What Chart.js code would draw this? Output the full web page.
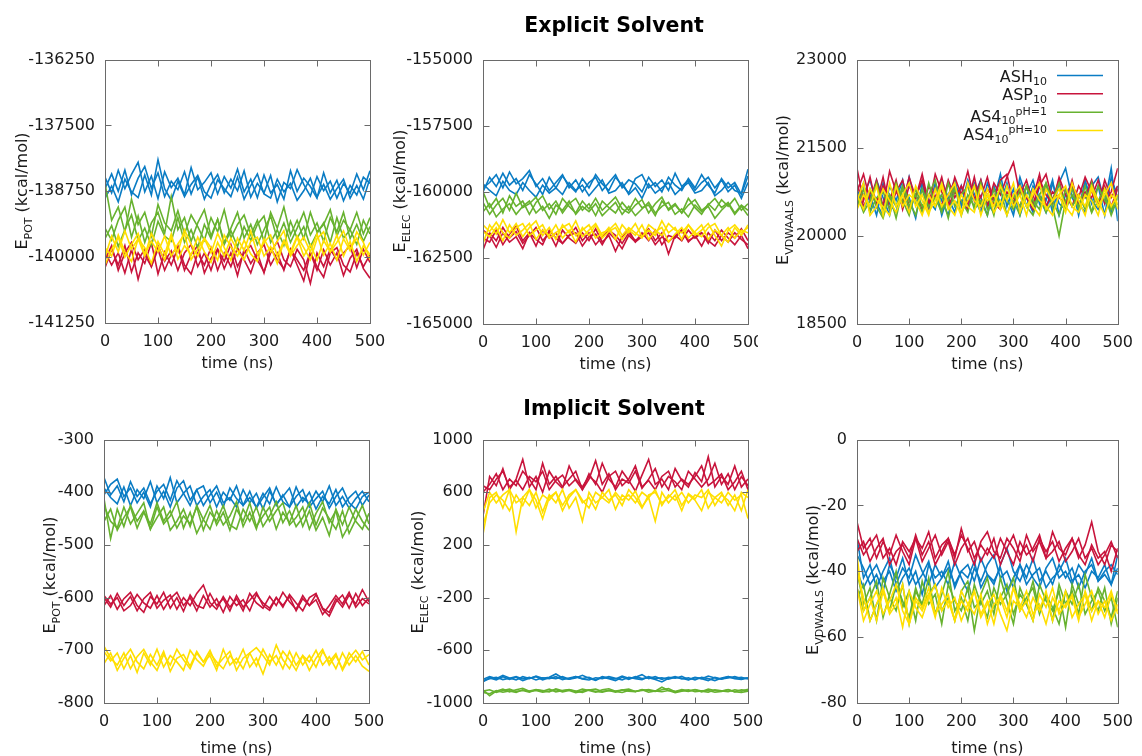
<!DOCTYPE html>
<html>
<head>
<meta charset="utf-8">
<script src="https://cdn.jsdelivr.net/npm/chart.js@4.4.0/dist/chart.umd.min.js"></script>
<style>
  body { margin: 0; background: #fff; }
  #page { position: relative; width: 1142px; height: 756px; overflow: hidden; background: #fff; }
  canvas, .clip { position: absolute; }
  .clip { overflow: hidden; }
</style>
</head>
<body>
<div id="page">
  <canvas id="titles" width="1142" height="756" style="left:0px;top:0px"></canvas>
  <canvas id="c1" width="395" height="340" style="left:0px;top:40px"></canvas>
  <div class="clip" style="left:380px;top:40px;width:378px;height:340px">
    <canvas id="c2" width="410" height="340" style="left:0px;top:0px"></canvas>
  </div>
  <canvas id="c3" width="382" height="340" style="left:760px;top:40px"></canvas>
  <canvas id="c4" width="395" height="336" style="left:0px;top:420px"></canvas>
  <canvas id="c5" width="395" height="336" style="left:380px;top:420px"></canvas>
  <canvas id="c6" width="382" height="336" style="left:760px;top:420px"></canvas>
</div>
<script>
// time axis (ns)
const times = [0,12.5,25,37.5,50,62.5,75,87.5,100,112.5,125,137.5,150,162.5,175,187.5,200,212.5,225,237.5,250,262.5,275,287.5,300,312.5,325,337.5,350,362.5,375,387.5,400,412.5,425,437.5,450,462.5,475,487.5,500];

// ---- Explicit solvent: E_POT ----
const expPotASH = [
  [-138700,-138420,-138750,-138350,-138820,-138500,-138280,-138690,-138400,-138850,-138560,-138720,-138380,-138800,-138480,-138900,-138620,-138430,-138780,-138520,-138740,-138360,-138860,-138600,-138780,-138450,-138950,-138580,-138700,-138340,-138620,-138840,-138470,-138740,-138560,-138880,-138600,-138790,-138420,-138720,-138360],
  [-138480,-138780,-138350,-138700,-138430,-138200,-138760,-138460,-138890,-138380,-138680,-138500,-138820,-138300,-138720,-138580,-138400,-138800,-138470,-138690,-138330,-138760,-138520,-138870,-138440,-138780,-138620,-138900,-138360,-138750,-138500,-138660,-138880,-138400,-138780,-138540,-138930,-138640,-138820,-138480,-138600],
  [-138880,-138650,-138950,-138520,-138760,-138870,-138440,-138820,-138150,-138700,-138920,-138560,-138850,-138620,-138450,-138760,-138880,-138530,-138700,-138850,-138480,-138900,-138640,-138420,-138800,-138880,-138520,-138760,-138600,-138920,-138740,-138500,-138860,-138620,-138900,-138700,-138520,-138880,-138640,-138900,-138500]
];
const expPotASP = [
  [-140200,-139850,-140150,-139780,-140280,-139920,-140120,-139720,-140320,-139900,-140150,-139820,-140250,-139950,-139780,-140300,-140020,-139850,-140220,-139920,-140350,-139850,-140120,-139920,-140300,-139820,-140050,-140220,-139850,-140150,-140450,-139920,-140250,-139860,-140150,-139920,-140350,-140020,-139850,-140220,-140400],
  [-139900,-140150,-139920,-140300,-139850,-140420,-139950,-140180,-139850,-140250,-139960,-139780,-140150,-140320,-139920,-140150,-139820,-140250,-139920,-140180,-139820,-140050,-140300,-139920,-139760,-140150,-139920,-140250,-139850,-140050,-140250,-139900,-140180,-140380,-139920,-139820,-140150,-140280,-139920,-140180,-139950],
  [-140050,-139780,-140250,-139920,-139720,-140050,-139850,-140180,-139780,-140080,-139880,-140250,-139920,-139760,-140180,-139920,-140250,-139850,-140080,-139760,-140180,-139920,-139780,-140050,-140280,-139920,-139700,-140050,-140180,-139850,-140050,-140500,-139920,-140180,-139850,-140050,-139920,-139780,-140200,-139850,-140100]
];
const expPotAS4pH1 = [
  [-138600,-139300,-139050,-139520,-138900,-139380,-139150,-139600,-139000,-139350,-139500,-139120,-139560,-139200,-139420,-139680,-139250,-139520,-139100,-139640,-139380,-139200,-139580,-139300,-139700,-139150,-139450,-139050,-139580,-139300,-139650,-139150,-139520,-139380,-139100,-139600,-139300,-139480,-139150,-139560,-139250],
  [-139450,-139680,-139300,-139050,-139620,-139220,-139720,-139350,-139150,-139550,-138850,-139480,-139250,-139700,-139350,-139100,-139600,-139280,-139720,-139450,-139150,-139640,-139380,-139760,-139480,-139220,-139650,-139350,-139720,-139450,-139150,-139580,-139350,-139700,-139250,-139520,-139150,-139650,-139380,-139700,-139420],
  [-139650,-139400,-139800,-139480,-139200,-139680,-139450,-139780,-139320,-139600,-139700,-139250,-139720,-139480,-139820,-139380,-139650,-139280,-139760,-139500,-139800,-139420,-139680,-139380,-139220,-139720,-139480,-139780,-139320,-139640,-139420,-139800,-139550,-139350,-139720,-139250,-139640,-139480,-139760,-139300,-139560]
];
const expPotAS4pH10 = [
  [-140000,-139600,-139900,-139500,-139850,-139650,-139980,-139550,-139800,-140050,-139620,-139900,-139480,-139760,-139980,-139650,-139920,-139550,-139820,-140060,-139640,-139880,-139500,-139950,-139720,-139580,-139980,-139680,-139900,-139600,-139820,-140050,-139650,-139520,-139900,-139720,-139500,-139850,-139640,-139960,-139720],
  [-139820,-139980,-139580,-139900,-140080,-139650,-139820,-140120,-139700,-139950,-139560,-140040,-139780,-139960,-139620,-139900,-140100,-139720,-139980,-139640,-139880,-140050,-139700,-139620,-139980,-139800,-140120,-139700,-139950,-139620,-139980,-139760,-140060,-139680,-139900,-139580,-139980,-139700,-140080,-139780,-139950],
  [-140150,-139850,-139620,-140000,-139760,-139550,-139950,-139700,-139900,-139600,-139980,-139750,-139560,-140050,-139850,-139640,-139820,-140060,-139580,-139800,-139980,-139680,-139940,-140080,-139650,-139900,-139700,-139500,-139980,-139780,-139620,-139900,-139560,-139960,-139740,-140060,-139650,-139880,-139520,-139720,-140050]
];

// ---- Explicit solvent: E_ELEC ----
const expElecASH = [
  [-160000,-159450,-159800,-159300,-159750,-159500,-159950,-159350,-159700,-160100,-159450,-159850,-159400,-159750,-160000,-159500,-159850,-159350,-159700,-159950,-159450,-159750,-160050,-159500,-159350,-159850,-159650,-160000,-159450,-159750,-159950,-159500,-159850,-159350,-159750,-160050,-159500,-159850,-159650,-160100,-159400],
  [-159850,-159650,-159350,-159850,-159250,-159700,-159500,-159200,-159800,-159500,-159950,-159650,-159350,-159850,-159550,-160000,-159650,-159450,-159950,-159650,-159350,-159850,-159550,-159700,-160000,-159450,-159800,-159550,-159950,-159300,-159800,-159550,-159950,-159650,-159450,-159850,-159550,-160000,-159750,-160250,-159650],
  [-159700,-159950,-160150,-159600,-159950,-160100,-159650,-159950,-160200,-159750,-160050,-159850,-160100,-159650,-159950,-159750,-160150,-159850,-159550,-160050,-159950,-159650,-160100,-159850,-160250,-159700,-160050,-159850,-159650,-160100,-159850,-159650,-160050,-159950,-159650,-160150,-159950,-159650,-159950,-160050,-159150]
];
const expElecASP = [
  [-162200,-161550,-161850,-161350,-161750,-161500,-161950,-161650,-161350,-161850,-161550,-162050,-161450,-161750,-161950,-161550,-161850,-161400,-161900,-161650,-162250,-161700,-161450,-161900,-161550,-161850,-161450,-162000,-161650,-161750,-161450,-161900,-161650,-162050,-161550,-161850,-161450,-161750,-162000,-161650,-162150],
  [-161750,-161900,-161450,-162000,-161600,-161300,-161850,-161550,-162050,-161450,-161750,-161550,-161950,-161650,-161350,-161850,-161550,-162000,-161700,-161450,-161650,-161950,-161550,-161850,-161650,-161400,-161850,-161550,-162350,-161650,-161850,-161450,-161750,-161550,-161950,-161450,-161850,-161550,-161750,-161400,-161850],
  [-161450,-161650,-162100,-161550,-161900,-161700,-162150,-161550,-161800,-162000,-161450,-161750,-161950,-161650,-161550,-162050,-161700,-161600,-162000,-161550,-161800,-162150,-161650,-161900,-161700,-161550,-162000,-161700,-161900,-161650,-161450,-161850,-161700,-161550,-161850,-162050,-161650,-161900,-161550,-161800,-162000]
];
const expElecAS4pH1 = [
  [-160000,-160600,-160250,-160800,-160150,-160550,-160350,-160850,-160400,-160150,-160650,-160350,-160800,-160450,-160250,-160700,-160450,-160900,-160350,-160600,-160800,-160400,-160700,-160250,-160600,-160500,-160900,-160350,-160650,-160450,-160800,-160500,-160300,-160700,-160500,-160250,-160600,-160400,-160800,-160500,-160700],
  [-160400,-160850,-160500,-160250,-160700,-160050,-160600,-160450,-160200,-160700,-160450,-160850,-160250,-160550,-160800,-160350,-160650,-160250,-160700,-160450,-160200,-160650,-160800,-160500,-160300,-160800,-160450,-160200,-160700,-160500,-160800,-160250,-160600,-160850,-160450,-160700,-160300,-160550,-160250,-160700,-160450],
  [-160750,-160450,-160950,-160650,-160450,-160850,-160550,-160350,-160800,-160550,-161000,-160500,-160700,-160350,-160850,-160550,-160750,-160450,-160900,-160650,-160400,-160850,-160550,-160900,-160650,-160400,-160800,-160550,-160400,-160850,-160650,-160950,-160500,-160750,-160550,-161000,-160700,-160450,-160850,-160550,-160900]
];
const expElecAS4pH10 = [
  [-161950,-161250,-161600,-161050,-161550,-161200,-161700,-161350,-161100,-161650,-161350,-161800,-161250,-161550,-161100,-161700,-161450,-161200,-161650,-161350,-161800,-161250,-161550,-161200,-161700,-161450,-161650,-161100,-161550,-161350,-161800,-161250,-161550,-161700,-161350,-161200,-161650,-161900,-161350,-161650,-161250],
  [-161500,-161700,-161350,-161850,-161250,-161650,-161450,-161200,-161800,-161450,-161650,-161250,-161750,-161450,-161900,-161350,-161650,-161250,-161750,-161500,-161350,-161800,-161450,-161650,-161250,-161800,-161500,-161350,-161900,-161600,-161350,-161750,-161500,-161250,-161800,-161450,-161650,-161350,-161750,-161450,-161550],
  [-161250,-161500,-161150,-161550,-161750,-161350,-161200,-161650,-161450,-161250,-161750,-161550,-161350,-161200,-161650,-161450,-161250,-161750,-161550,-161450,-161200,-161650,-161350,-161550,-161750,-161250,-161450,-161650,-161200,-161450,-161550,-161250,-161650,-161450,-161200,-161650,-162050,-161450,-161250,-161550,-161350]
];

// ---- Explicit solvent: E_VDWAALS ----
const expVdwASH = [
  [20600,20900,20400,20950,20650,20350,20800,20500,21000,20550,20800,20400,20900,20600,20350,20850,20500,20950,20650,20400,20900,20600,21050,20500,20800,20350,20700,20950,20550,20850,20400,20900,21150,20650,20450,20950,20550,20850,20350,21000,20650],
  [20500,20700,20950,20550,20350,20850,20600,20950,20400,20700,20900,20450,20850,20350,20700,20950,20550,20450,20900,20650,20350,20850,20550,20900,20450,21000,20650,20400,20850,20600,20950,20350,20700,20900,20550,20400,20850,21000,20550,21150,20250],
  [20800,20450,20700,20350,20900,20550,20400,20850,20650,20300,20900,20600,20450,20950,20650,20400,20850,20500,20700,20950,20550,20400,20850,20650,20350,20900,20500,20850,20650,20400,20900,20550,20450,20850,20350,20900,20600,20450,20700,20400,20850]
];
const expVdwASP = [
  [20750,21050,20600,20950,20500,21100,20750,20550,21000,20650,20950,20500,21050,20750,20550,21000,20700,21100,20600,20950,20500,20900,20700,21000,21250,20700,20950,20550,20850,21050,20600,20950,20500,20850,20650,21000,20750,20500,20950,20650,20850],
  [21150,20600,21000,20500,20850,20600,20950,20450,20850,20650,21050,20550,20800,20500,20950,20650,20850,20550,21000,20500,20800,20650,20950,21050,20550,20850,20650,20450,20950,20700,20550,21000,20700,20500,20850,20650,20950,20550,20850,20500,20800],
  [20900,20500,20750,20550,21000,20450,20750,20950,20500,20700,20450,20850,20650,21000,20500,20750,20600,20450,20850,20650,21000,20550,20450,20750,20650,20500,20850,20650,21050,20500,20750,20650,20550,20950,20500,20750,20650,20950,20550,20750,21150]
];
const expVdwAS4pH1 = [
  [20700,20400,20600,20900,20450,20700,20300,20800,20500,20700,20400,20900,20500,20700,20300,20800,20600,20400,20850,20500,20700,20350,20900,20600,20450,20800,20500,20350,20700,20900,20500,20000,20600,20800,20450,20700,20400,20850,20600,20450,20700],
  [20500,20800,20400,20650,20750,20450,20900,20600,20350,20800,20500,20700,20950,20450,20600,20850,20350,20700,20500,20900,20450,20600,20800,20350,20700,20500,20850,20600,20450,20900,20600,20350,20800,20500,20700,20450,20900,20500,20700,20350,20650],
  [20650,20450,20800,20500,20300,20700,20500,20850,20600,20350,20800,20500,20650,20400,20900,20500,20700,20850,20450,20600,20350,20800,20500,20700,20600,20350,20850,20500,20700,20400,20600,20900,20450,20700,20500,20850,20400,20600,20800,20450,20550]
];
const expVdwAS4pH10 = [
  [20450,20700,20500,20850,20350,20900,20500,20700,20400,20850,20600,20350,20800,20500,20700,20900,20400,20600,20850,20350,20700,20500,20850,20600,20900,20400,20700,20500,20350,20800,20600,20700,20400,20900,20600,20350,20800,20500,20700,20900,20450],
  [20700,20450,20800,20600,20500,20350,20850,20500,20700,20600,20350,20700,20500,20850,20450,20600,20350,20900,20600,20500,20800,20400,20600,20350,20700,20850,20500,20700,20900,20450,20600,20800,20500,20350,20700,20500,20850,20600,20350,20700,20550],
  [20600,20900,20350,20500,20800,20600,20400,20700,20900,20500,20700,20400,20600,20900,20500,20350,20700,20500,20400,20850,20600,20700,20450,20850,20500,20700,20350,20800,20600,20500,20350,20700,20850,20500,20400,20700,20600,20350,20800,20500,20700]
];

// ---- Implicit solvent: E_POT ----
const impPotASH = [
  [-372,-405,-388,-418,-380,-408,-392,-422,-398,-385,-415,-378,-402,-425,-395,-388,-420,-400,-428,-392,-412,-425,-398,-430,-410,-392,-425,-405,-428,-390,-418,-400,-432,-408,-422,-395,-428,-410,-398,-425,-405],
  [-392,-410,-422,-390,-425,-395,-412,-380,-420,-398,-428,-392,-378,-415,-395,-425,-405,-388,-420,-410,-428,-395,-420,-402,-432,-398,-422,-408,-392,-428,-410,-422,-398,-418,-388,-425,-408,-430,-412,-398,-418],
  [-405,-385,-375,-408,-392,-420,-400,-428,-388,-412,-372,-420,-402,-388,-425,-408,-395,-428,-400,-415,-388,-425,-410,-428,-402,-422,-390,-418,-428,-408,-395,-428,-412,-398,-430,-408,-392,-420,-432,-408,-400]
];
const impPotASP = [
  [-600,-618,-592,-615,-598,-625,-602,-590,-620,-605,-595,-622,-600,-615,-592,-576,-610,-622,-598,-618,-602,-625,-592,-610,-620,-598,-615,-590,-608,-622,-596,-615,-604,-632,-615,-596,-612,-590,-618,-602,-612],
  [-615,-596,-622,-602,-590,-615,-628,-598,-612,-590,-620,-600,-626,-595,-615,-620,-592,-615,-602,-625,-596,-618,-605,-590,-615,-624,-600,-618,-594,-610,-625,-600,-592,-622,-635,-608,-595,-620,-592,-615,-600],
  [-596,-612,-600,-625,-615,-594,-610,-620,-596,-622,-602,-590,-615,-600,-625,-596,-618,-602,-628,-598,-615,-604,-625,-594,-610,-620,-600,-615,-598,-625,-602,-615,-594,-620,-628,-602,-618,-595,-612,-585,-608]
];
const impPotAS4pH1 = [
  [-412,-488,-432,-465,-425,-455,-435,-470,-428,-460,-445,-418,-468,-438,-478,-452,-425,-462,-438,-472,-432,-455,-420,-465,-445,-428,-470,-438,-458,-425,-465,-435,-472,-448,-482,-432,-462,-428,-455,-470,-440],
  [-425,-455,-468,-428,-460,-440,-420,-470,-448,-428,-472,-455,-432,-465,-425,-452,-470,-435,-462,-445,-418,-465,-438,-470,-428,-455,-435,-420,-462,-448,-428,-470,-440,-418,-458,-435,-485,-462,-432,-455,-472],
  [-455,-432,-472,-448,-428,-468,-438,-460,-420,-455,-435,-468,-445,-460,-428,-472,-438,-455,-425,-462,-470,-432,-455,-428,-465,-445,-418,-458,-435,-465,-448,-420,-462,-430,-450,-470,-435,-478,-452,-425,-460]
];
const impPotAS4pH10 = [
  [-692,-715,-728,-705,-735,-712,-698,-722,-738,-708,-728,-698,-718,-735,-705,-722,-700,-730,-715,-702,-738,-715,-705,-730,-698,-722,-710,-735,-702,-728,-710,-738,-715,-698,-728,-710,-735,-705,-722,-702,-728],
  [-702,-720,-705,-735,-710,-742,-705,-728,-698,-732,-710,-722,-738,-700,-718,-730,-705,-722,-735,-710,-725,-698,-732,-715,-745,-708,-728,-702,-718,-738,-710,-722,-700,-728,-712,-735,-705,-728,-710,-730,-740],
  [-725,-705,-738,-715,-698,-722,-735,-708,-728,-702,-740,-715,-708,-730,-702,-722,-710,-738,-698,-728,-715,-735,-705,-695,-710,-728,-690,-718,-735,-705,-728,-710,-732,-702,-722,-706,-738,-715,-700,-718,-708]
];

// ---- Implicit solvent: E_ELEC ----
const impElecASH = [
  [-820,-800,-815,-790,-810,-825,-800,-815,-795,-812,-805,-780,-810,-820,-800,-815,-805,-825,-800,-810,-818,-795,-812,-805,-785,-815,-800,-820,-805,-812,-798,-822,-805,-815,-795,-810,-820,-800,-812,-805,-818],
  [-840,-810,-825,-800,-820,-805,-830,-812,-800,-825,-808,-815,-800,-820,-810,-790,-812,-828,-805,-815,-830,-805,-820,-800,-815,-808,-822,-840,-812,-800,-818,-808,-825,-805,-815,-830,-810,-800,-815,-822,-810],
  [-830,-815,-805,-822,-812,-800,-818,-805,-825,-808,-815,-800,-822,-810,-800,-818,-825,-808,-815,-800,-812,-825,-805,-815,-822,-800,-815,-808,-820,-805,-812,-825,-808,-815,-830,-805,-818,-810,-800,-815,-808]
];
const impElecASP = [
  [420,720,650,780,620,700,850,640,720,600,760,680,630,800,690,620,740,660,820,700,640,760,690,610,730,850,660,700,620,780,690,640,750,680,870,640,720,660,800,640,700],
  [600,660,740,620,700,650,760,700,620,820,660,720,640,700,760,620,700,840,660,740,620,700,670,760,630,700,780,640,720,680,620,760,700,640,700,820,660,740,620,720,650],
  [650,620,700,760,640,690,620,720,680,760,620,690,730,650,700,640,720,680,600,720,760,650,700,800,640,690,620,720,760,640,700,660,720,800,650,690,740,620,680,760,620]
];
const impElecAS4pH1 = [
  [-900,-945,-910,-895,-915,-900,-888,-910,-898,-905,-915,-892,-908,-900,-912,-895,-905,-918,-900,-892,-910,-902,-895,-912,-905,-898,-910,-880,-905,-912,-898,-908,-900,-915,-895,-905,-910,-898,-915,-900,-905],
  [-910,-900,-920,-905,-895,-912,-905,-918,-900,-910,-895,-915,-905,-898,-910,-920,-902,-895,-912,-905,-918,-900,-910,-915,-898,-905,-912,-900,-890,-915,-905,-912,-898,-910,-918,-900,-908,-915,-900,-910,-895],
  [-920,-930,-905,-918,-908,-920,-900,-912,-905,-918,-910,-900,-915,-905,-922,-910,-900,-912,-918,-905,-912,-920,-905,-912,-900,-918,-908,-915,-905,-922,-910,-900,-915,-908,-905,-918,-912,-900,-915,-920,-910]
];
const impElecAS4pH10 = [
  [280,560,600,480,620,300,560,500,600,450,580,520,620,480,560,380,600,520,560,620,470,580,540,610,490,560,380,600,520,580,460,590,550,620,480,560,600,500,580,460,620],
  [350,520,580,540,460,580,500,620,540,400,560,600,500,580,620,520,560,470,600,540,580,500,620,560,480,580,600,520,560,620,500,580,540,460,600,560,520,600,540,580,400],
  [450,600,520,580,620,520,560,620,480,580,540,600,460,560,620,540,480,600,560,520,600,540,580,520,600,560,620,500,580,540,600,520,580,560,620,500,580,540,460,600,560]
];

// ---- Implicit solvent: E_VDWAALS ----
const impVdwASH = [
  [-30,-42,-38,-45,-40,-36,-44,-39,-42,-35,-40,-44,-38,-42,-37,-45,-40,-38,-43,-36,-41,-44,-38,-33,-40,-43,-38,-42,-45,-39,-36,-42,-40,-44,-38,-41,-36,-43,-40,-38,-41],
  [-35,-39,-44,-41,-46,-38,-42,-36,-44,-40,-47,-38,-42,-40,-44,-37,-42,-46,-39,-43,-38,-35,-42,-40,-45,-38,-42,-36,-43,-40,-44,-38,-42,-39,-45,-40,-38,-43,-41,-44,-39],
  [-40,-45,-41,-38,-43,-40,-46,-42,-39,-44,-41,-37,-45,-42,-39,-44,-40,-42,-37,-45,-41,-43,-39,-46,-42,-38,-44,-41,-39,-45,-42,-40,-36,-43,-41,-45,-40,-42,-38,-44,-35]
];
const impVdwASP = [
  [-25,-33,-30,-36,-31,-35,-29,-34,-38,-30,-33,-28,-36,-32,-30,-35,-29,-33,-38,-31,-28,-34,-36,-30,-33,-37,-29,-34,-31,-36,-28,-33,-35,-30,-36,-32,-25,-34,-38,-32,-34],
  [-30,-35,-32,-29,-36,-33,-38,-31,-34,-30,-37,-33,-29,-35,-31,-38,-33,-30,-36,-32,-35,-30,-38,-33,-29,-35,-32,-37,-30,-34,-31,-37,-33,-30,-35,-38,-32,-36,-34,-40,-33],
  [-34,-31,-37,-33,-30,-38,-34,-32,-36,-29,-35,-31,-38,-34,-30,-36,-27,-34,-31,-37,-33,-36,-30,-34,-38,-31,-35,-33,-29,-36,-34,-31,-37,-34,-30,-36,-33,-38,-35,-31,-36]
];
const impVdwAS4pH1 = [
  [-40,-50,-45,-55,-42,-48,-52,-44,-56,-46,-50,-42,-53,-47,-40,-52,-48,-55,-44,-50,-46,-53,-42,-49,-56,-45,-50,-43,-52,-47,-55,-44,-50,-46,-53,-41,-48,-52,-45,-56,-48],
  [-45,-52,-48,-43,-54,-47,-40,-51,-46,-55,-43,-50,-47,-56,-44,-49,-52,-45,-58,-47,-42,-51,-48,-44,-53,-47,-50,-55,-44,-49,-52,-46,-57,-44,-50,-47,-52,-45,-49,-54,-46],
  [-48,-44,-55,-50,-46,-52,-44,-49,-54,-45,-51,-47,-44,-52,-48,-55,-46,-43,-51,-49,-54,-45,-50,-47,-42,-52,-48,-45,-53,-47,-51,-56,-46,-50,-44,-53,-49,-46,-52,-48,-57]
];
const impVdwAS4pH10 = [
  [-35,-52,-48,-55,-46,-53,-50,-44,-56,-49,-52,-47,-54,-45,-51,-48,-55,-50,-46,-53,-49,-56,-47,-52,-45,-50,-54,-48,-52,-46,-55,-49,-51,-47,-54,-50,-46,-53,-49,-55,-50],
  [-40,-48,-55,-50,-45,-52,-48,-57,-46,-51,-54,-48,-44,-52,-49,-55,-46,-50,-53,-47,-56,-50,-48,-54,-45,-52,-49,-55,-47,-51,-45,-53,-50,-48,-55,-46,-52,-49,-54,-47,-52],
  [-45,-55,-50,-46,-53,-49,-44,-52,-56,-48,-51,-45,-53,-50,-47,-55,-49,-52,-46,-54,-50,-47,-53,-58,-49,-51,-46,-53,-50,-56,-48,-52,-46,-54,-50,-47,-55,-49,-51,-46,-53]
];

const colASH = '#0a7cc4';
const colASP = '#c8143c';
const colAS4pH1 = '#67b22f';
const colAS4pH10 = '#ffdf00';

const FONT = '"DejaVu Sans", Verdana, sans-serif';
const TXT = '#1a1a1a';

// draws a row of text parts (sub/superscripts) ending at x, or centred on x
function drawRich(ctx, parts, x, base, centre) {
  let w = 0;
  parts.forEach(p => { ctx.font = p.s + 'px ' + FONT; p.w = ctx.measureText(p.t).width; w += p.w; });
  let cx = centre ? x - w / 2 : x - w;
  ctx.textAlign = 'left';
  ctx.textBaseline = 'alphabetic';
  parts.forEach(p => {
    ctx.font = p.s + 'px ' + FONT;
    ctx.fillText(p.t, cx, base + (p.dy || 0));
    cx += p.w;
  });
}

const framePlugin = {
  id: 'frame',
  afterDatasetsDraw(chart) {
    const { ctx, chartArea: a, scales: { x, y } } = chart;
    ctx.save();
    ctx.strokeStyle = '#6a6a6a';
    ctx.lineWidth = 1;
    const L = Math.round(a.left) + 0.5, R = Math.round(a.right) + 0.5;
    const T = Math.round(a.top) + 0.5, B = Math.round(a.bottom) + 0.5;
    ctx.strokeRect(L, T, R - L, B - T);
    ctx.beginPath();
    x.ticks.forEach(t => {
      const px = Math.round(x.getPixelForValue(t.value)) + 0.5;
      ctx.moveTo(px, B); ctx.lineTo(px, B - 6);
      ctx.moveTo(px, T); ctx.lineTo(px, T + 6);
    });
    y.ticks.forEach(t => {
      const py = Math.round(y.getPixelForValue(t.value)) + 0.5;
      ctx.moveTo(L, py); ctx.lineTo(L + 6, py);
      ctx.moveTo(R, py); ctx.lineTo(R - 6, py);
    });
    ctx.stroke();
    ctx.restore();
  }
};

const ylabPlugin = {
  id: 'ylab',
  afterDraw(chart, args, opts) {
    const ctx = chart.ctx;
    ctx.save();
    ctx.fillStyle = TXT;
    ctx.translate(opts.x, opts.cy);
    ctx.rotate(-Math.PI / 2);
    drawRich(ctx, [
      { t: 'E', s: 16 },
      { t: opts.sub, s: 11, dy: 4.5 },
      { t: ' (kcal/mol)', s: 16 }
    ], 0, 0, true);
    ctx.restore();
  }
};

const legendPlugin = {
  id: 'keybox',
  afterDraw(chart) {
    const ctx = chart.ctx;
    const items = [
      { parts: [{ t: 'ASH', s: 16 }, { t: '10', s: 11, dy: 3 }], col: colASH, ly: 35.5, base: 41.7 },
      { parts: [{ t: 'ASP', s: 16 }, { t: '10', s: 11, dy: 3 }], col: colASP, ly: 53.8, base: 60 },
      { parts: [{ t: 'AS4', s: 16 }, { t: '10', s: 11, dy: 2.5 }, { t: 'pH=1', s: 11, dy: -7 }], col: colAS4pH1, ly: 72.2, base: 81.7 },
      { parts: [{ t: 'AS4', s: 16 }, { t: '10', s: 11, dy: 2.5 }, { t: 'pH=10', s: 11, dy: -7 }], col: colAS4pH10, ly: 90.5, base: 100 }
    ];
    ctx.save();
    items.forEach(it => {
      ctx.fillStyle = TXT;
      drawRich(ctx, it.parts, 287, it.base, false);
      ctx.strokeStyle = it.col;
      ctx.lineWidth = 1.6;
      ctx.beginPath();
      ctx.moveTo(297, it.ly);
      ctx.lineTo(343, it.ly);
      ctx.stroke();
    });
    ctx.restore();
  }
};

function series(reps, col, order) {
  return reps.map(vals => ({
    data: times.map((t, i) => ({ x: t, y: vals[i] })),
    borderColor: col,
    borderWidth: 1.6,
    pointRadius: 0,
    fill: false,
    tension: 0,
    order: order
  }));
}

function makePanel(id, o) {
  const tickFont = { family: FONT, size: 16 };
  const plugins = [framePlugin, ylabPlugin];
  if (o.legend) plugins.push(legendPlugin);
  new Chart(document.getElementById(id), {
    type: 'line',
    data: {
      datasets: [].concat(
        series(o.data[3], colAS4pH10, 0),
        series(o.data[2], colAS4pH1, 1),
        series(o.data[1], colASP, 2),
        series(o.data[0], colASH, 3)
      )
    },
    options: {
      responsive: false,
      animation: false,
      layout: { padding: { top: o.padTop, right: o.padRight, left: 0, bottom: 0 } },
      plugins: {
        legend: { display: false },
        tooltip: { enabled: false },
        ylab: { x: o.labX, cy: o.labY, sub: o.sub }
      },
      scales: {
        x: {
          type: 'linear', min: 0, max: 500,
          grid: { display: false, drawTicks: false },
          border: { display: false },
          ticks: { stepSize: 100, padding: 9, autoSkip: false, maxRotation: 0, font: tickFont, color: TXT, callback: v => String(v) },
          title: { display: true, text: 'time (ns)', color: TXT, font: { family: FONT, size: 16, lineHeight: 1 }, padding: { top: 0, bottom: o.titlePad } },
          afterFit: s => { s.height = o.xh; }
        },
        y: {
          type: 'linear', min: o.ymin, max: o.ymax,
          grid: { display: false, drawTicks: false },
          border: { display: false },
          ticks: { stepSize: o.step, padding: 10, autoSkip: false, font: tickFont, color: TXT, callback: v => String(v) },
          afterFit: s => { s.width = o.yw; }
        }
      }
    },
    plugins: plugins
  });
}

// explicit solvent row
makePanel('c1', { data: [expPotASH, expPotASP, expPotAS4pH1, expPotAS4pH10], ymin: -141250, ymax: -136250, step: 1250,
  sub: 'POT', yw: 105, padTop: 18, padRight: 25, xh: 57, titlePad: 8, labX: 27, labY: 151 });
makePanel('c2', { data: [expElecASH, expElecASP, expElecAS4pH1, expElecAS4pH10], ymin: -165000, ymax: -155000, step: 2500,
  sub: 'ELEC', yw: 103, padTop: 19, padRight: 42, xh: 56, titlePad: 7, labX: 25, labY: 151 });
makePanel('c3', { data: [expVdwASH, expVdwASP, expVdwAS4pH1, expVdwAS4pH10], ymin: 18500, ymax: 23000, step: 1500,
  sub: 'VDWAALS', yw: 97, padTop: 19, padRight: 20, xh: 56, titlePad: 7, labX: 28, labY: 150, legend: true });

// implicit solvent row
makePanel('c4', { data: [impPotASH, impPotASP, impPotAS4pH1, impPotAS4pH10], ymin: -800, ymax: -300, step: 100,
  sub: 'POT', yw: 104, padTop: 18, padRight: 26, xh: 53, titlePad: -1, labX: 55, labY: 155 });
makePanel('c5', { data: [impElecASH, impElecASP, impElecAS4pH1, impElecAS4pH10], ymin: -1000, ymax: 1000, step: 400,
  sub: 'ELEC', yw: 103, padTop: 18, padRight: 27, xh: 53, titlePad: -1, labX: 43, labY: 152 });
makePanel('c6', { data: [impVdwASH, impVdwASP, impVdwAS4pH1, impVdwAS4pH10], ymin: -80, ymax: 0, step: 20,
  sub: 'VDWAALS', yw: 97, padTop: 18, padRight: 20, xh: 53, titlePad: -1, labX: 58, labY: 160 });

// row titles
const tctx = document.getElementById('titles').getContext('2d');
tctx.fillStyle = '#000';
tctx.font = 'bold 20.5px ' + FONT;
tctx.textAlign = 'center';
tctx.textBaseline = 'alphabetic';
tctx.fillText('Explicit Solvent', 614, 31.7);
tctx.fillText('Implicit Solvent', 614, 415);
</script>
</body>
</html>
